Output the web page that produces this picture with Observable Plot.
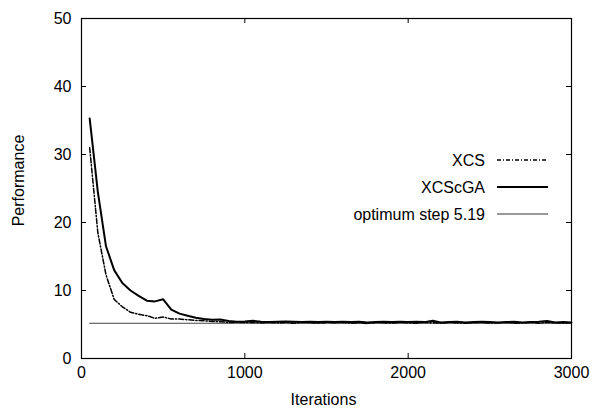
<!DOCTYPE html>
<html>
<head>
<meta charset="utf-8">
<script src="https://cdn.jsdelivr.net/npm/d3@7"></script>
<script src="https://cdn.jsdelivr.net/npm/@observablehq/plot@0.6"></script>
<style>
  html, body { margin: 0; padding: 0; background: #fff; }
  #wrap { position: relative; width: 592px; height: 414px; font-family: "Liberation Sans", Arial, Helvetica, sans-serif; }
  #legend { position: absolute; left: 0; top: 0; pointer-events: none; }
</style>
</head>
<body>
<div id="wrap"></div>
<script>
const iterations = [50,100,150,200,250,300,350,400,450,500,550,600,650,700,750,800,850,900,950,1000,
  1050,1100,1150,1200,1250,1300,1350,1400,1450,1500,1550,1600,1650,1700,1750,1800,1850,1900,1950,2000,
  2050,2100,2150,2200,2250,2300,2350,2400,2450,2500,2550,2600,2650,2700,2750,2800,2850,2900,2950,3000];
const xcscga = [35.3,24.5,16.5,13.0,11.1,10.0,9.2,8.5,8.4,8.7,7.2,6.6,6.3,6.0,5.8,5.7,5.75,5.5,5.4,5.45,
  5.55,5.4,5.35,5.4,5.45,5.4,5.35,5.4,5.35,5.4,5.35,5.4,5.35,5.4,5.3,5.35,5.4,5.35,5.4,5.35,
  5.4,5.35,5.55,5.3,5.35,5.4,5.3,5.35,5.4,5.35,5.3,5.35,5.4,5.3,5.35,5.4,5.5,5.3,5.35,5.3];
const xcs = [31.0,18.5,12.3,8.7,7.6,6.8,6.5,6.3,5.9,6.1,5.8,5.8,5.7,5.6,5.55,5.45,5.4,5.3,5.35,5.3,
  5.3,5.25,5.3,5.25,5.3,5.2,5.3,5.25,5.2,5.3,5.25,5.3,5.2,5.25,5.15,5.3,5.25,5.2,5.3,5.25,
  5.2,5.3,5.25,5.2,5.3,5.25,5.2,5.25,5.3,5.2,5.25,5.3,5.2,5.25,5.3,5.2,5.3,5.25,5.2,5.25];
const optimum = 5.19;
const optimumRange = [50, 3000];
const xTicks = [0,1000,2000,3000];
const yTicks = [0,10,20,30,40,50];
const xLabel = "Iterations";
const yLabel = "Performance";
const legendLabels = ["XCS", "XCScGA", "optimum step 5.19"];

const rows = iterations.map((it, i) => ({it, xcs: xcs[i], xcscga: xcscga[i]}));
const optRows = optimumRange.map(it => ({it, v: optimum}));

const W = 592, H = 414;
const mTop = 18, mBottom = 56, mLeft = 81, mRight = 21;
const innerH = H - mTop - mBottom, innerW = W - mLeft - mRight;
const tk = 5;
const font = '"Liberation Sans", Arial, Helvetica, sans-serif';

const chart = Plot.plot({
  width: W, height: H,
  marginTop: mTop, marginBottom: mBottom, marginLeft: mLeft, marginRight: mRight,
  style: {fontFamily: font, fontSize: "16px", background: "#fff", color: "#000"},
  x: {domain: [0, 3000]},
  y: {domain: [0, 50]},
  marks: [
    // inward ticks on all four sides
    Plot.tickX(xTicks, {x: d => d, insetTop: innerH - tk, stroke: "#000", strokeWidth: 1}),
    Plot.tickX(xTicks, {x: d => d, insetBottom: innerH - tk, stroke: "#000", strokeWidth: 1}),
    Plot.tickY(yTicks, {y: d => d, insetRight: innerW - tk, stroke: "#000", strokeWidth: 1}),
    Plot.tickY(yTicks, {y: d => d, insetLeft: innerW - tk, stroke: "#000", strokeWidth: 1}),
    Plot.axisX(xTicks, {tickSize: 0, tickPadding: 8, tickFormat: d => String(d), label: null, fontSize: 16}),
    Plot.axisY(yTicks, {tickSize: 0, tickPadding: 10, tickFormat: d => String(d), label: null, fontSize: 16}),
    Plot.text([xLabel], {text: d => d, frameAnchor: "bottom", textAnchor: "middle", dy: 46, dx: -3, fontSize: 16}),
    Plot.text([yLabel], {text: d => d, frameAnchor: "left", textAnchor: "middle", rotate: -90, dx: -63, dy: -8, fontSize: 16}),
    Plot.line(optRows, {x: "it", y: "v", stroke: "#444", strokeWidth: 1.1}),
    Plot.line(rows, {x: "it", y: "xcs", stroke: "#000", strokeWidth: 1.5, strokeDasharray: "5,2,1.2,2"}),
    Plot.line(rows, {x: "it", y: "xcscga", stroke: "#000", strokeWidth: 2}),
    Plot.frame({stroke: "#000", strokeWidth: 1.2})
  ]
});

const wrap = document.getElementById("wrap");
wrap.appendChild(chart);

// legend overlay
const ns = "http://www.w3.org/2000/svg";
const leg = document.createElementNS(ns, "svg");
leg.setAttribute("id", "legend");
leg.setAttribute("width", W);
leg.setAttribute("height", H);
const styles = [
  {stroke: "#000", width: 1.3, dash: "4,2,1,2"},
  {stroke: "#000", width: 2, dash: null},
  {stroke: "#777", width: 1.5, dash: null}
];
legendLabels.forEach((lab, i) => {
  const y = 160 + i * 27;
  const t = document.createElementNS(ns, "text");
  t.setAttribute("x", 485);
  t.setAttribute("y", y);
  t.setAttribute("text-anchor", "end");
  t.setAttribute("dominant-baseline", "central");
  t.setAttribute("font-size", "16");
  t.setAttribute("font-family", font);
  t.textContent = lab;
  leg.appendChild(t);
  const l = document.createElementNS(ns, "line");
  l.setAttribute("x1", 497); l.setAttribute("x2", 548);
  l.setAttribute("y1", y); l.setAttribute("y2", y);
  l.setAttribute("stroke", styles[i].stroke);
  l.setAttribute("stroke-width", styles[i].width);
  if (styles[i].dash) l.setAttribute("stroke-dasharray", styles[i].dash);
  leg.appendChild(l);
});
wrap.appendChild(leg);
</script>
</body>
</html>
